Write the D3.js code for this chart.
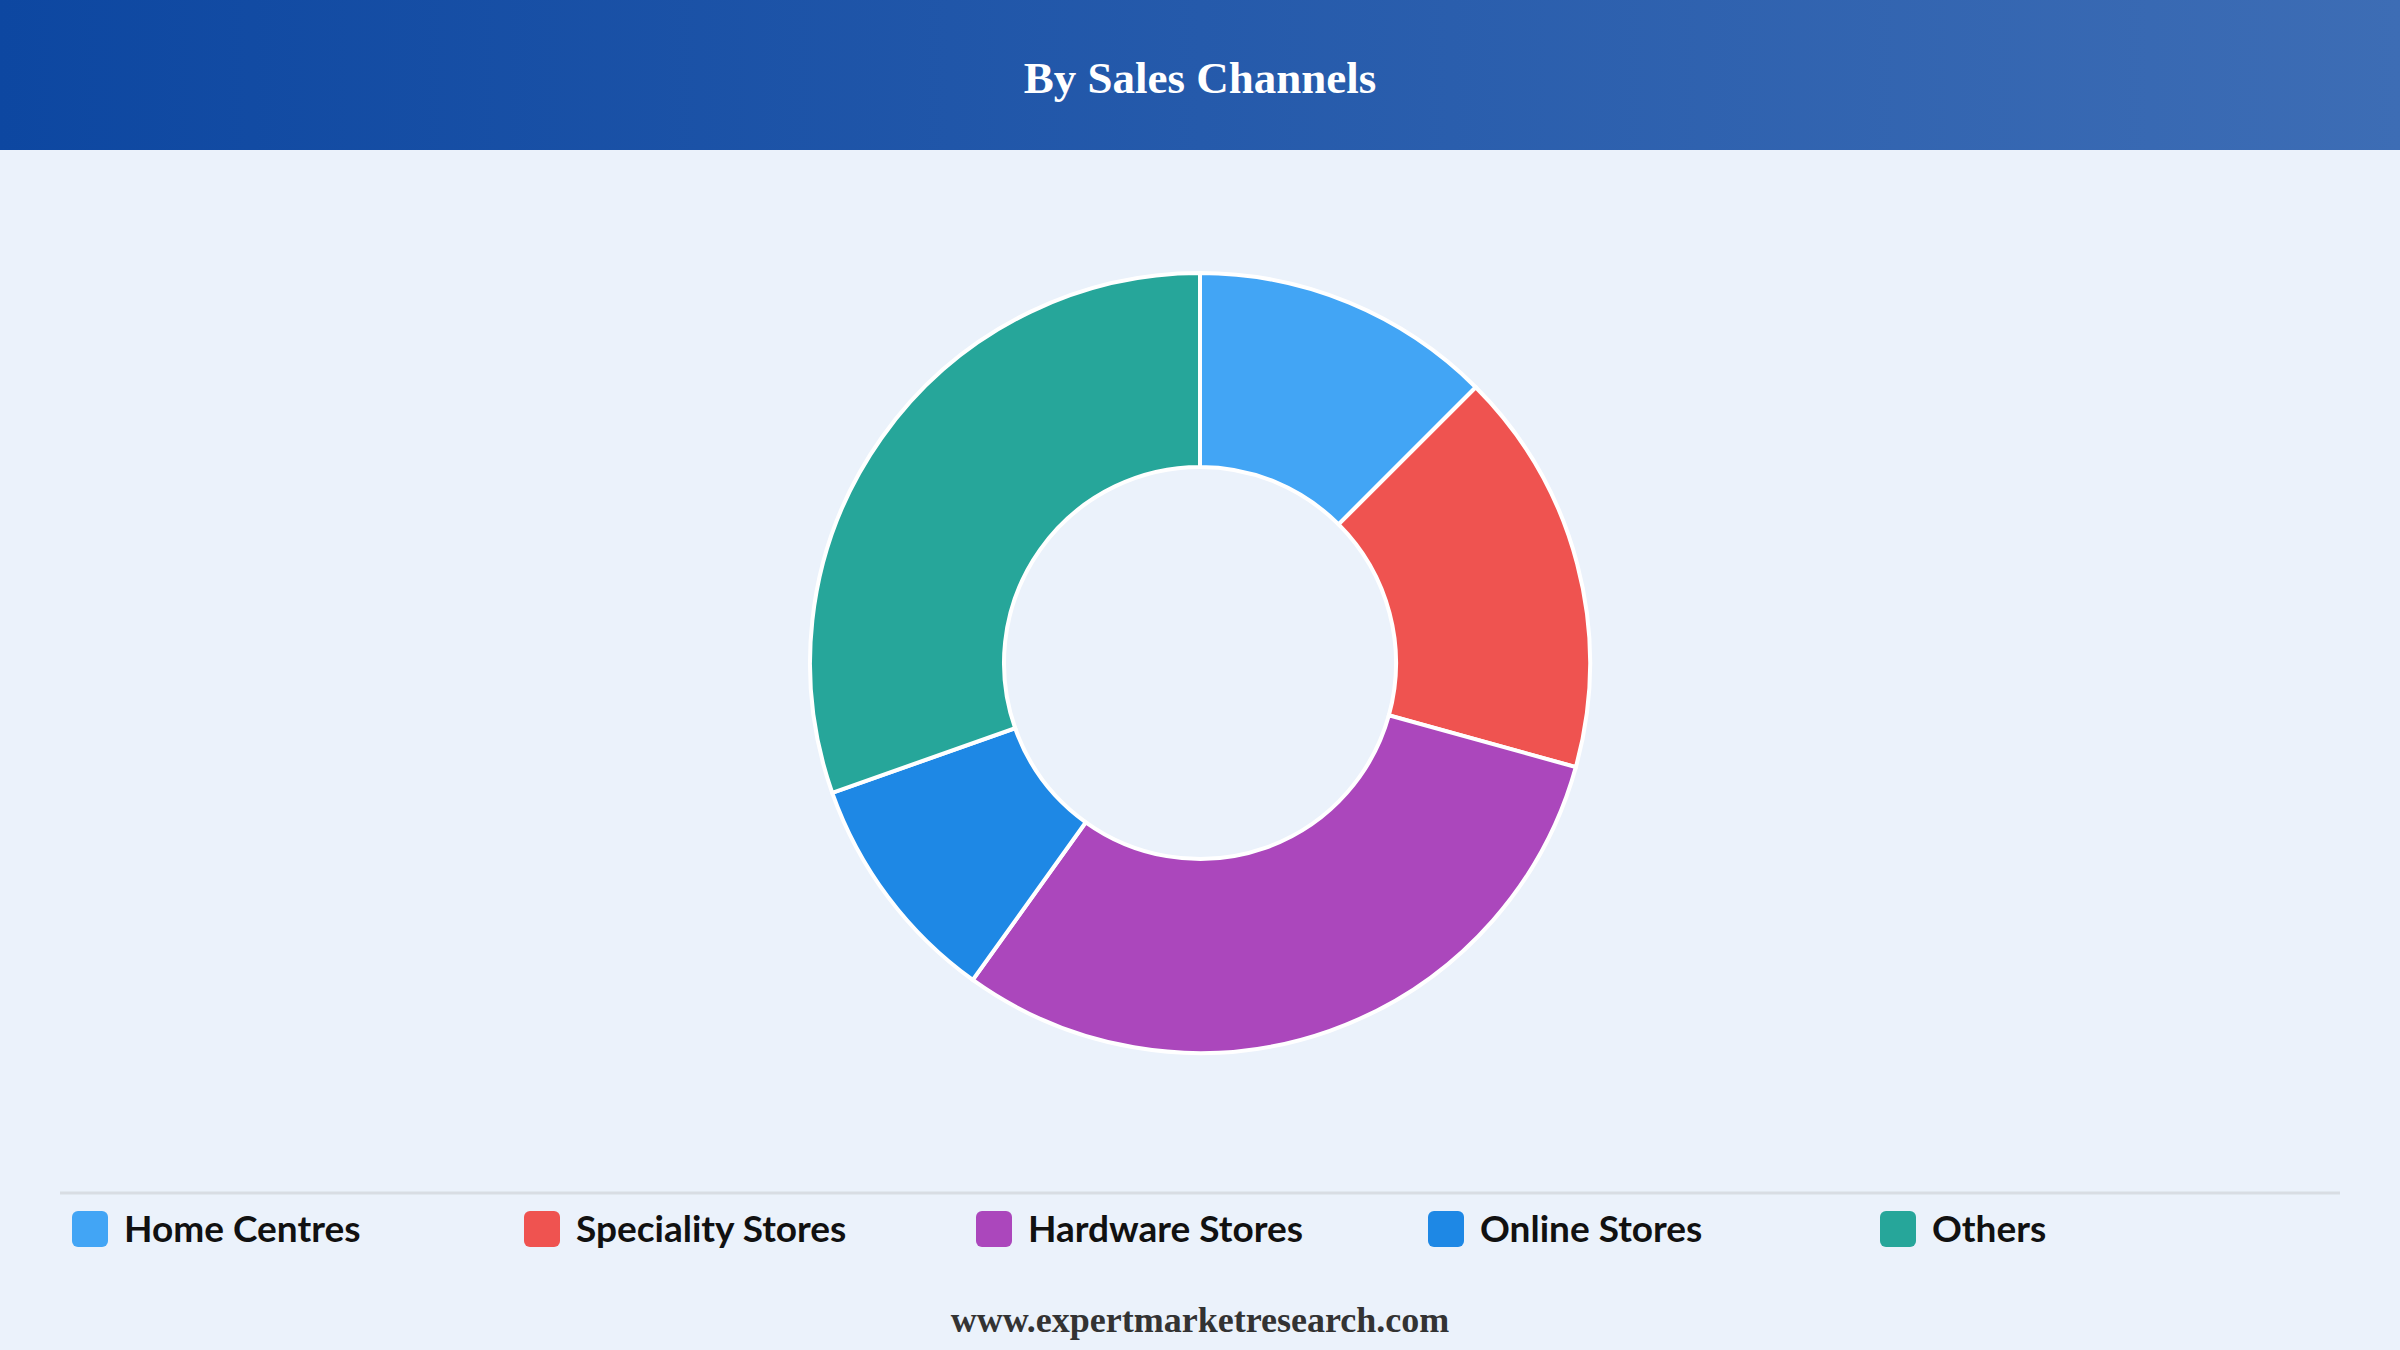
<!DOCTYPE html>
<html><head><meta charset="utf-8">
<script src="https://cdn.jsdelivr.net/npm/d3@7"></script>
<style>html,body{margin:0;padding:0;background:#EBF2FB;}</style>
</head><body>
<script>
const categories = ["Home Centres","Speciality Stores","Hardware Stores","Online Stores","Others"];
const values = [12.5, 16.8, 30.6, 9.7, 30.4];
const colors = ["#42A5F5","#EF5350","#AB47BC","#1E88E5","#26A69A"];

const W=2400,H=1350;
const svg=d3.select("body").append("svg").attr("width",W).attr("height",H);
svg.append("rect").attr("width",W).attr("height",H).attr("fill","#EBF2FB");
const grad=svg.append("defs").append("linearGradient").attr("id","hg");
grad.append("stop").attr("offset","0%").attr("stop-color","#0D47A1");
grad.append("stop").attr("offset","100%").attr("stop-color","#3D6DB5");
svg.append("rect").attr("width",W).attr("height",150).attr("fill","url(#hg)");
svg.append("text").attr("x",W/2).attr("y",93).attr("text-anchor","middle")
  .attr("font-family","Liberation Serif, Times New Roman, serif").attr("font-weight","bold")
  .attr("font-size",45).attr("fill","#fff").text("By Sales Channels");

const pie=d3.pie().sort(null).value(d=>d);
const arc=d3.arc().innerRadius(196).outerRadius(390);
const g=svg.append("g").attr("transform","translate(1200,663)");
g.selectAll("path").data(pie(values)).join("path").attr("d",arc)
  .attr("fill",(d,i)=>colors[i]).attr("stroke","#fff").attr("stroke-width",4);

svg.append("line").attr("x1",60).attr("x2",2340).attr("y1",1193).attr("y2",1193)
  .attr("stroke","#d8dde3").attr("stroke-width",3);
const x=d3.scalePoint().domain(categories).range([72,72+452*4]);
const lg=svg.selectAll("g.lg").data(categories).join("g").attr("class","lg")
  .attr("transform",d=>`translate(${x(d)},1229)`);
lg.append("rect").attr("x",0).attr("y",-18).attr("width",36).attr("height",36).attr("rx",6)
  .attr("fill",(d,i)=>colors[i]);
lg.append("text").attr("x",52).attr("y",13).attr("font-family","Lato, Open Sans, sans-serif")
  .attr("font-weight","bold").attr("font-size",37).attr("fill","#111").text(d=>d);

svg.append("text").attr("x",W/2).attr("y",1332).attr("text-anchor","middle")
  .attr("font-family","Liberation Serif, Times New Roman, serif").attr("font-weight","bold")
  .attr("font-size",36).attr("fill","#333").text("www.expertmarketresearch.com");
</script>
</body></html>
